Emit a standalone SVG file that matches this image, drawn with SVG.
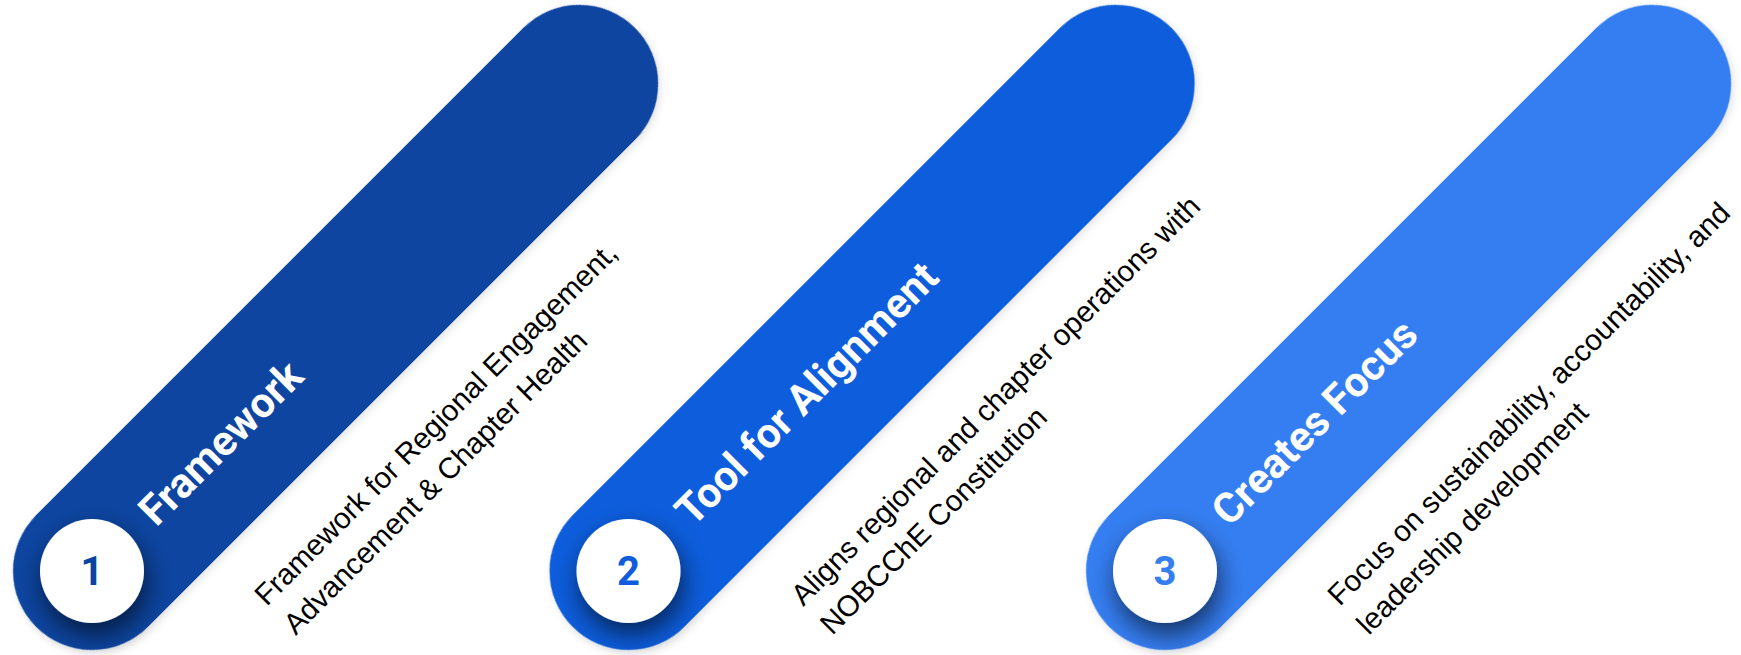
<svg xmlns="http://www.w3.org/2000/svg" width="1741" height="655" viewBox="0 0 1741 655">
  <defs>
    <filter id="cshadow" x="-80%" y="-80%" width="260%" height="260%">
      <feGaussianBlur in="SourceAlpha" stdDeviation="13"/>
      <feOffset dx="3" dy="12" result="b"/>
      <feComponentTransfer><feFuncA type="linear" slope="0.6"/></feComponentTransfer>
      <feMerge><feMergeNode/><feMergeNode in="SourceGraphic"/></feMerge>
    </filter>
    <filter id="pshadow" x="-20%" y="-40%" width="140%" height="180%">
      <feGaussianBlur in="SourceAlpha" stdDeviation="4"/>
      <feOffset dx="0" dy="3"/>
      <feComponentTransfer><feFuncA type="linear" slope="0.12"/></feComponentTransfer>
      <feMerge><feMergeNode/><feMergeNode in="SourceGraphic"/></feMerge>
    </filter>
  </defs>
  <style>
    .pill { filter: url(#pshadow); }
    .badge { fill: #ffffff; filter: url(#cshadow); }
    .title { font-family: Roboto, "Liberation Sans", sans-serif; font-weight: 700; font-size: 42px; fill: #ffffff; }
    .num { font-family: Roboto, "Liberation Sans", sans-serif; font-weight: 700; font-size: 40px; text-anchor: middle; }
    .desc { font-family: "Liberation Sans", Arial, sans-serif; font-weight: 400; font-size: 29.5px; fill: #000000; }
  </style>
  <rect width="1741" height="655" fill="#ffffff"/>

  <g id="node-1">
    <g transform="translate(92,571) rotate(-45)">
      <rect class="pill" x="-79" y="-79" width="847" height="158" rx="79" fill="#0B44A0"/>
      <text class="title" x="76" y="15">Framework</text>
      <text class="desc" x="98" y="149">Framework for Regional Engagement,</text>
      <text class="desc" x="98" y="190">Advancement &amp; Chapter Health</text>
    </g>
    <circle class="badge" cx="92" cy="571" r="52"/>
    <text class="num" x="92" y="585" fill="#0B44A0">1</text>
  </g>

  <g id="node-2">
    <g transform="translate(628.5,571) rotate(-45)">
      <rect class="pill" x="-79" y="-79" width="847" height="158" rx="79" fill="#0F5DDC"/>
      <text class="title" x="76" y="15">Tool for Alignment</text>
      <text class="desc" x="98" y="149">Aligns regional and chapter operations with</text>
      <text class="desc" x="98" y="190">NOBCChE Constitution</text>
    </g>
    <circle class="badge" cx="628.5" cy="571" r="52"/>
    <text class="num" x="628.5" y="585" fill="#0F5DDC">2</text>
  </g>

  <g id="node-3">
    <g transform="translate(1165,571) rotate(-45)">
      <rect class="pill" x="-79" y="-79" width="847" height="158" rx="79" fill="#347EF2"/>
      <text class="title" x="76" y="15">Creates Focus</text>
      <text class="desc" x="98" y="149">Focus on sustainability, accountability, and</text>
      <text class="desc" x="98" y="190">leadership development</text>
    </g>
    <circle class="badge" cx="1165" cy="571" r="52"/>
    <text class="num" x="1165" y="585" fill="#347EF2">3</text>
  </g>

  <g id="connectors"></g>
</svg>
